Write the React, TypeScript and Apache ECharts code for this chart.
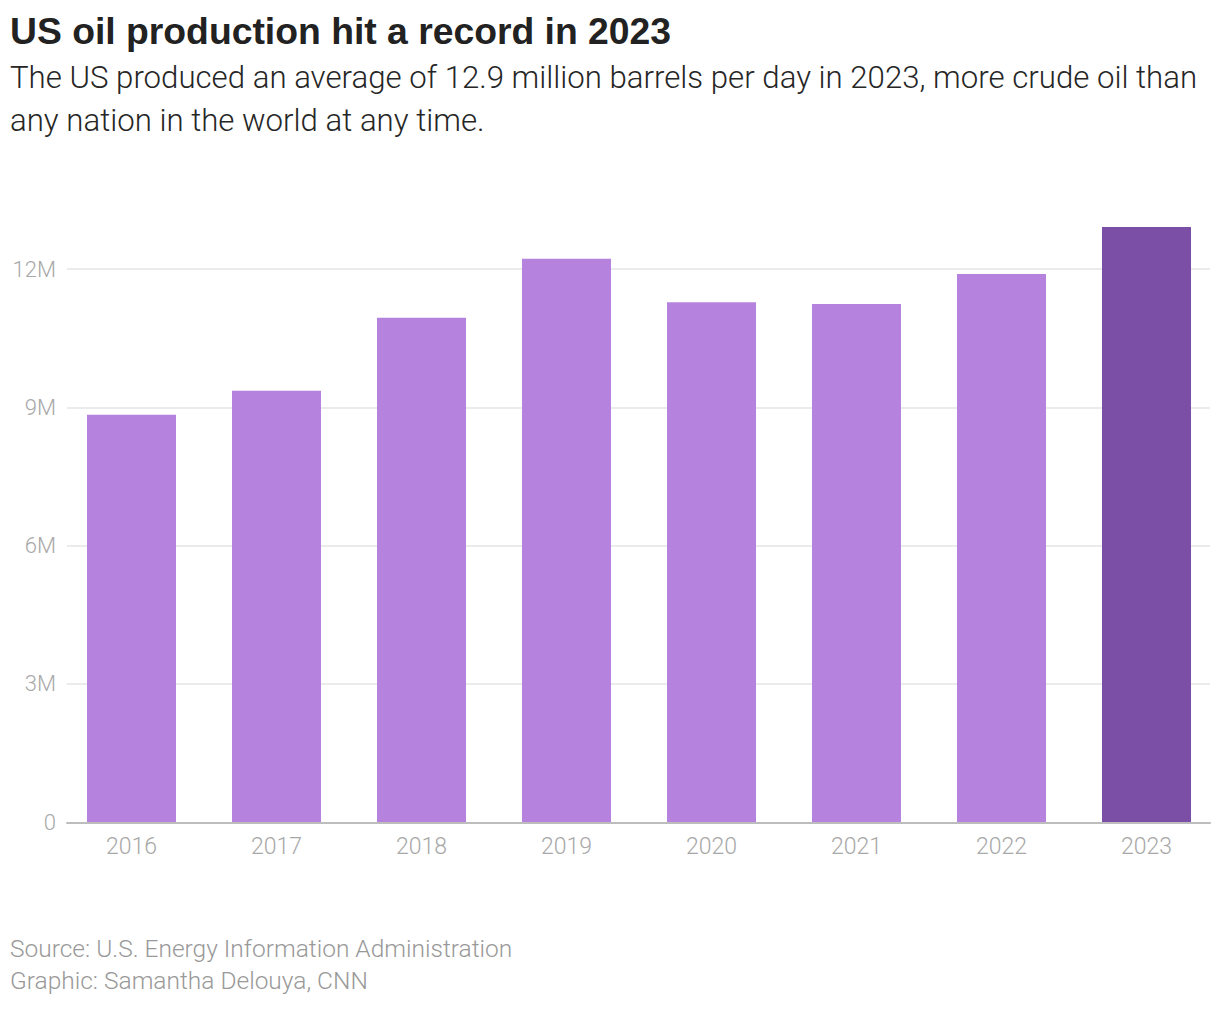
import React, { useEffect, useRef } from "react";
import * as echarts from "echarts";

const years = ["2016", "2017", "2018", "2019", "2020", "2021", "2022", "2023"];
const production = [8.84, 9.36, 10.94, 12.22, 11.28, 11.24, 11.89, 12.91];
const highlightYear = "2023";
const yTicks = [0, 3, 6, 9, 12];

const titleText = "US oil production hit a record in 2023";
const subtitleLines = [
  "The US produced an average of 12.9 million barrels per day in 2023, more crude oil than",
  "any nation in the world at any time.",
];
const footerLines = [
  "Source: U.S. Energy Information Administration",
  "Graphic: Samantha Delouya, CNN",
];

const LIGHT = "#b583de";
const DARK = "#7b4fa6";
const FONT = "Roboto, 'Liberation Sans', sans-serif";
const TITLE_FONT = "'Liberation Sans', Arial, sans-serif";

export default function App() {
  const ref = useRef<HTMLDivElement>(null);
  useEffect(() => {
    document.body.style.margin = "0";
    const chart = echarts.init(ref.current!, undefined, { renderer: "svg" });
    const axisBottom = 822.3;
    const perM = (822.3 - 269) / 12;
    const barMax = 15;
    const option: any = {
      animation: false,
      backgroundColor: "#ffffff",
      textStyle: { fontFamily: FONT },
      grid: [
        { left: 67, right: 10, top: 269, height: axisBottom - 269, containLabel: false },
        { left: 59, width: 1160, top: axisBottom - barMax * perM, height: barMax * perM, containLabel: false },
      ],
      xAxis: [
        {
          gridIndex: 0,
          type: "value",
          min: 0,
          max: 1,
          z: 5,
          axisLine: { show: true, lineStyle: { color: "#bdbdbd", width: 2 } },
          axisTick: { show: false },
          axisLabel: { show: false },
          splitLine: { show: false },
        },
        {
          gridIndex: 1,
          type: "category",
          data: years,
          axisLine: { show: false },
          axisTick: { show: false },
          axisLabel: { color: "#a8a8a8", fontSize: 23, fontWeight: 300, margin: 13, fontFamily: FONT },
        },
      ],
      yAxis: [
        {
          gridIndex: 0,
          type: "value",
          min: 0,
          max: yTicks[yTicks.length - 1],
          interval: 3,
          axisLine: { show: false },
          axisTick: { show: false },
          axisLabel: {
            color: "#a8a8a8",
            fontSize: 22,
            fontWeight: 300,
            margin: 11,
            fontFamily: FONT,
            formatter: (v: number) => (v === 0 ? "0" : `${v}M`),
          },
          splitLine: {
            show: true,
            lineStyle: { color: "#ebebeb", width: 2 },
          },
        },
        {
          gridIndex: 1,
          type: "value",
          min: 0,
          max: barMax,
          show: false,
          splitLine: { show: false },
        },
      ],
      series: [
        {
          type: "bar",
          xAxisIndex: 1,
          yAxisIndex: 1,
          barWidth: 89,
          data: years.map((y, i) => ({
            value: production[i],
            itemStyle: { color: y === highlightYear ? DARK : LIGHT },
          })),
        },
      ],
      graphic: [
        {
          type: "text",
          left: 10,
          top: 12,
          style: { text: titleText, font: `bold 37.3px ${TITLE_FONT}`, fill: "#222222" },
        },
        ...subtitleLines.map((t, i) => ({
          type: "text",
          left: 10,
          top: 62 + i * 43,
          style: { text: t, font: `300 31.2px ${FONT}`, fill: "#262626" },
        })),
        ...footerLines.map((t, i) => ({
          type: "text",
          left: 10,
          top: 936 + i * 32,
          style: { text: t, font: `300 24.5px ${FONT}`, fill: "#999999" },
        })),
      ],
    };
    chart.setOption(option);
    return () => chart.dispose();
  }, []);
  return <div ref={ref} style={{ width: 1220, height: 1010 }} />;
}
